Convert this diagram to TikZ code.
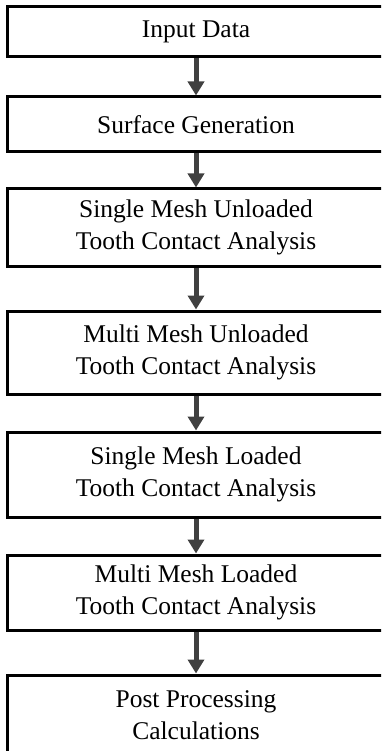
\documentclass[tikz,border=0pt]{standalone}
\usepackage{fontspec}
\setmainfont{Liberation Serif}
\usetikzlibrary{arrows.meta}
\begin{document}
\begin{tikzpicture}[
    x=1pt,
    y=-1pt,
    caja/.style={draw, line width=3pt, minimum width=377pt, align=center,
        inner sep=0pt, font=\fontsize{25.5}{32.5}\selectfont},
    flecha/.style={draw=black!75, line width=5pt,
        -{Triangle[width=16pt, length=14pt]}}
]
\clip (0,0) rectangle (381,751);

% Paso / centro vertical / alto de la caja
\foreach \txt/\yc/\alto [count=\i] in {
    {Input Data}/32/50,
    {Surface Generation}/124.5/55,
    {Single Mesh Unloaded\\Tooth Contact Analysis}/227.5/77,
    {Multi Mesh Unloaded\\Tooth Contact Analysis}/352.5/83,
    {Single Mesh Loaded\\Tooth Contact Analysis}/474.5/85,
    {Multi Mesh Loaded\\Tooth Contact Analysis}/592.5/75,
    {Post Processing\\Calculations}/715/80}
{
    \node[caja, minimum height=\alto] (caja\i) at (196,\yc) {\txt};
}

% Flechas
\foreach \a/\b in {1/2, 2/3, 3/4, 4/5, 5/6, 6/7}
    \draw[flecha] (caja\a) -- (caja\b);

\end{tikzpicture}
\end{document}
